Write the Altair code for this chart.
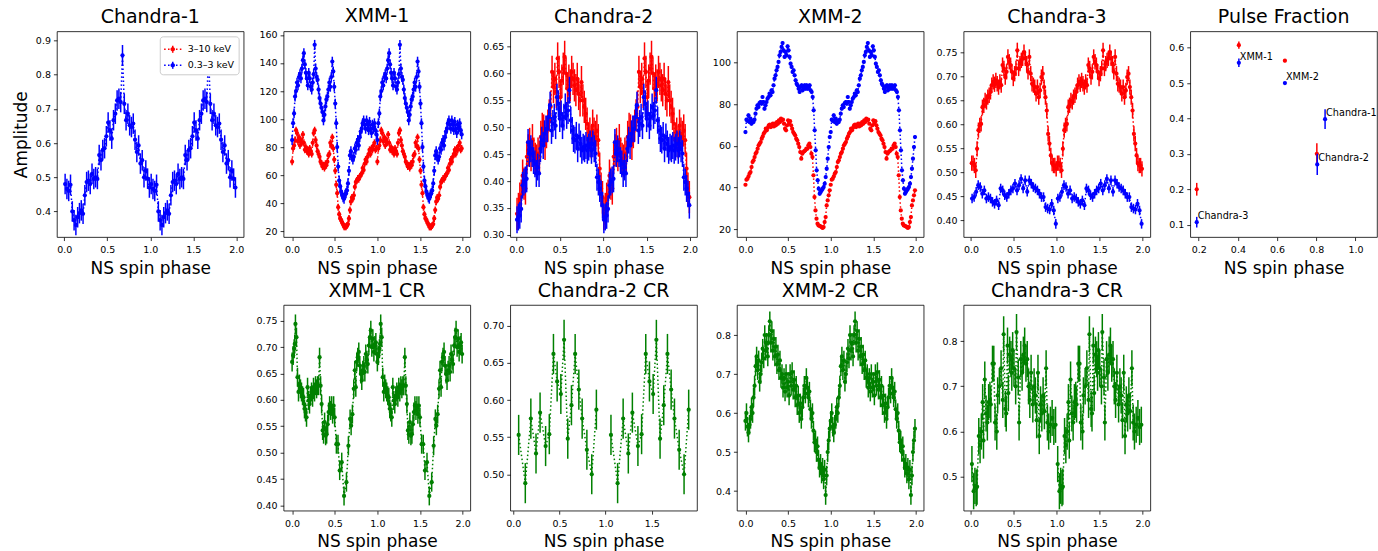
import altair as alt
import pandas as pd

RED = "#ff0000"
BLUE = "#0000ff"
GREEN = "#008000"
W, H = 187, 206
FONT = "DejaVu Sans"

# ---------------- data (one rotation each; plotted twice, phase and phase+1) -------------
# Chandra-1 (0.3-3 keV only)
c1_blue = [0.48, 0.466, 0.46, 0.478, 0.40, 0.374, 0.36, 0.383, 0.395, 0.403, 0.393, 0.447,
           0.486, 0.49, 0.48, 0.51, 0.495, 0.50, 0.495, 0.565, 0.55, 0.58, 0.585, 0.62, 0.66,
           0.637, 0.613, 0.667, 0.686, 0.725, 0.73, 0.72, 0.857, 0.715, 0.667, 0.686, 0.652,
           0.647, 0.657, 0.61, 0.574, 0.593, 0.54, 0.55, 0.50, 0.52, 0.496, 0.47]
c1_blue_err = 0.03

# XMM-1
x1_blue = [85, 97, 104, 116, 120, 126, 124, 130, 132, 129,
           136, 142, 147, 139, 133, 129, 124, 133, 129, 123,
           121, 126, 132, 153, 136, 130, 128, 121, 115, 111,
           108, 105, 99, 103, 109, 114, 116, 121, 126, 123,
           130, 141, 134, 123, 111, 97, 80, 66, 56, 52,
           48, 46, 44, 43, 46, 47, 49, 54, 63, 74,
           77, 73, 71, 73, 79, 78, 83, 85, 81, 87,
           91, 93, 97, 99, 96, 93, 99, 96, 92, 98,
           93, 90, 96, 93, 97, 92, 89]
x1_red = [69.5, 79, 81, 85, 92, 90, 84, 87, 81, 85,
          83, 89, 83, 78, 80, 77, 78, 75, 79, 77,
          75, 83, 90, 92, 85, 81, 77, 75, 73, 69.5,
          68, 66, 67, 65, 68, 67, 69.5, 74, 75, 83,
          81, 87, 79, 71, 63, 53, 47, 37, 32, 29,
          28, 26, 25, 23, 23, 23, 24, 25, 29, 35,
          41, 44, 43, 45.5, 51.5, 55, 56, 57.5, 57, 59,
          60, 61, 65, 63.5, 68, 71, 69.5, 73, 75, 78,
          75, 79, 78, 81, 83, 78, 79]
x1_blue_err, x1_red_err = 3.5, 2.5

# Chandra-2
c2_blue = [0.328, 0.333, 0.336, 0.348, 0.392, 0.398, 0.402, 0.404, 0.472, 0.451,
           0.46, 0.451, 0.438, 0.432, 0.414, 0.426, 0.414, 0.46, 0.476, 0.466,
           0.488, 0.497, 0.497, 0.519, 0.541, 0.494, 0.507, 0.519, 0.503, 0.556,
           0.544, 0.516, 0.525, 0.503, 0.519, 0.538, 0.522, 0.531, 0.569, 0.513,
           0.494, 0.479, 0.476, 0.485, 0.46, 0.482, 0.469, 0.457, 0.463, 0.46,
           0.466, 0.457, 0.463, 0.469, 0.457, 0.469, 0.46, 0.451, 0.407, 0.398,
           0.386, 0.376, 0.355]
c2_red = [0.339, 0.348, 0.367, 0.373, 0.41, 0.395, 0.386, 0.445, 0.457, 0.469,
          0.448, 0.476, 0.451, 0.441, 0.438, 0.451, 0.445, 0.482, 0.497, 0.494,
          0.469, 0.491, 0.503, 0.522, 0.538, 0.603, 0.575, 0.59, 0.566, 0.628,
          0.603, 0.556, 0.587, 0.609, 0.631, 0.6, 0.572, 0.587, 0.578, 0.603,
          0.59, 0.578, 0.569, 0.59, 0.562, 0.55, 0.584, 0.55, 0.538, 0.525,
          0.507, 0.476, 0.488, 0.472, 0.503, 0.488, 0.482, 0.494, 0.476, 0.423,
          0.386, 0.37]
c2_blue_err, c2_red_err = 0.025, 0.03

# XMM-2
x2_blue = [66.6, 72.5, 72, 74.6, 71.4, 73, 70.6, 72, 71.4, 72.5,
           75.4, 77.8, 79.4, 78.6, 80.5, 81, 80.2, 83.4, 81, 77.8,
           79.4, 81, 82.6, 83.4, 85, 84.2, 86.6, 85.8, 89, 92.2,
           93.8, 96.2, 97.8, 100.2, 103.4, 105, 107.4, 109.3, 105.8, 102.6,
           105, 103.4, 107.7, 105.8, 102.6, 99.4, 97.8, 95.4, 96.2, 93.8,
           91.4, 89.8, 89, 87.4, 85.8, 88.2, 89, 86.6, 88.2, 89,
           87.4, 89, 87.4, 88.2, 89, 86.6, 85.8, 83.4, 77, 67.4,
           57.8, 48.2, 43.4, 39.4, 37, 37.8, 38.6, 39.4, 40.2, 41.8,
           45, 49, 53.8, 59.4, 64.2]
x2_red = [41.3, 43.7, 44.2, 45.3, 46.6, 47.4, 49.8, 52.2, 53, 54.6,
          56.2, 57, 58.6, 60.2, 61, 61.8, 63.4, 64.5, 65.8, 66.6,
          68.2, 67.4, 68.6, 69.8, 70.2, 69, 69.8, 70.6, 69.3, 70.6,
          69.8, 71.4, 70.6, 72.2, 71.4, 73, 72.2, 72.5, 70.6, 68.2,
          67.4, 69.8, 72.2, 70.9, 71.8, 69.8, 68.2, 66.6, 65.8, 65,
          63.4, 62.6, 61, 59.4, 57, 53.8, 56.2, 57, 57.4, 57.8,
          58.6, 58.6, 60.2, 61, 59.4, 56.2, 54.6, 45.8, 35.4, 29,
          25, 22.6, 21.8, 21.6, 21.3, 21, 20.6, 21, 23.4, 25.8,
          31.4, 33.8, 36.2, 38.6]
x2_blue_err, x2_red_err = 0.9, 0.7

# Chandra-3
c3_red = [0.519, 0.519, 0.514, 0.504, 0.549, 0.588, 0.598, 0.601, 0.636, 0.64,
          0.65, 0.647, 0.657, 0.661, 0.668, 0.682, 0.689, 0.684, 0.692, 0.685,
          0.678, 0.689, 0.682, 0.724, 0.717, 0.699, 0.71, 0.741, 0.731, 0.724,
          0.71, 0.696, 0.706, 0.717, 0.755, 0.717, 0.727, 0.734, 0.738, 0.751,
          0.738, 0.727, 0.71, 0.741, 0.706, 0.685, 0.682, 0.678, 0.664, 0.678,
          0.657, 0.671, 0.699, 0.706, 0.678, 0.657, 0.629, 0.58, 0.56, 0.535,
          0.518, 0.514, 0.514, 0.507]
c3_blue = [0.445, 0.448, 0.459, 0.473, 0.469, 0.455, 0.462, 0.445, 0.448, 0.445,
           0.438, 0.434, 0.441, 0.431, 0.466, 0.462, 0.452, 0.448, 0.455, 0.462,
           0.466, 0.476, 0.462, 0.473, 0.486, 0.466, 0.483, 0.459, 0.483, 0.476,
           0.469, 0.466, 0.462, 0.455, 0.448, 0.448, 0.427, 0.424, 0.422, 0.434,
           0.42, 0.392]
c3_red_err, c3_blue_err = 0.016, 0.01

# Pulse fraction
pf_labels = ["Chandra-1", "XMM-1", "Chandra-2", "XMM-2", "Chandra-3"]
pf_x = [0.845, 0.405, 0.805, 0.64, 0.19]
pf_soft = [0.398, 0.557, 0.27, 0.50, 0.107]
pf_soft_err = [0.028, 0.012, 0.03, 0.004, 0.015]
pf_hard_x = [0.405, 0.803, 0.64, 0.19]
pf_hard = [0.607, 0.30, 0.563, 0.20]
pf_hard_err = [0.01, 0.03, 0.004, 0.018]

# Count-rate ratios (CR)
x1cr_phase = [0.0, 0.012, 0.024, 0.031, 0.039, 0.051, 0.063, 0.075, 0.086, 0.098,
              0.11, 0.122, 0.134, 0.145, 0.157, 0.169, 0.181, 0.193, 0.204, 0.216,
              0.228, 0.24, 0.251, 0.263, 0.275, 0.287, 0.299, 0.31, 0.322, 0.334,
              0.346, 0.358, 0.369, 0.381, 0.393, 0.405, 0.417, 0.428, 0.44, 0.452,
              0.464, 0.475, 0.487, 0.499, 0.519, 0.538, 0.558, 0.582, 0.609, 0.637,
              0.66, 0.68, 0.692, 0.707, 0.723, 0.735, 0.747, 0.758, 0.77, 0.782,
              0.794, 0.806, 0.817, 0.829, 0.841, 0.853, 0.864, 0.876, 0.888, 0.9,
              0.912, 0.923, 0.935, 0.947, 0.959, 0.971, 0.982, 0.994]
x1cr_val = [0.672, 0.684, 0.697, 0.706, 0.744, 0.719, 0.643, 0.615, 0.63, 0.621,
            0.615, 0.608, 0.605, 0.583, 0.577, 0.567, 0.624, 0.599, 0.592, 0.608,
            0.615, 0.605, 0.624, 0.615, 0.627, 0.621, 0.627, 0.627, 0.681, 0.627,
            0.592, 0.542, 0.535, 0.558, 0.532, 0.535, 0.554, 0.577, 0.589, 0.58,
            0.589, 0.573, 0.589, 0.567, 0.516, 0.516, 0.466, 0.482, 0.418, 0.444,
            0.513, 0.564, 0.551, 0.573, 0.621, 0.656, 0.624, 0.672, 0.681, 0.691,
            0.665, 0.649, 0.637, 0.656, 0.665, 0.653, 0.687, 0.675, 0.668, 0.703,
            0.719, 0.732, 0.70, 0.716, 0.691, 0.703, 0.709, 0.687]
x1cr_err = 0.018

c2cr_phase = [0.058, 0.13, 0.19, 0.246, 0.29, 0.35, 0.39, 0.435, 0.475, 0.515,
              0.55, 0.59, 0.63, 0.67, 0.71, 0.746, 0.797, 0.85, 0.90]
c2cr_val = [0.553, 0.488, 0.575, 0.528, 0.583, 0.538, 0.554, 0.662, 0.625, 0.608,
            0.681, 0.548, 0.593, 0.662, 0.614, 0.575, 0.533, 0.500, 0.587]
c2cr_err = 0.027

x2cr_val = [0.58, 0.60, 0.565, 0.55, 0.57, 0.585, 0.615, 0.60, 0.64, 0.67,
            0.72, 0.745, 0.71, 0.735, 0.68, 0.70, 0.73, 0.765, 0.74, 0.80,
            0.76, 0.78, 0.745, 0.80, 0.835, 0.78, 0.81, 0.76, 0.79, 0.745,
            0.77, 0.725, 0.75, 0.71, 0.735, 0.69, 0.70, 0.665, 0.69, 0.655,
            0.70, 0.665, 0.68, 0.645, 0.70, 0.67, 0.705, 0.66, 0.685, 0.64,
            0.67, 0.62, 0.645, 0.60, 0.625, 0.585, 0.615, 0.64, 0.67, 0.65,
            0.69, 0.665, 0.64, 0.655, 0.61, 0.585, 0.60, 0.555, 0.525, 0.53,
            0.50, 0.515, 0.48, 0.46, 0.47, 0.445, 0.46, 0.43, 0.455, 0.39,
            0.44, 0.50, 0.53, 0.56]
x2cr_err = 0.025

c3cr_phase = [0.01, 0.03, 0.045, 0.06, 0.07, 0.09, 0.105, 0.12, 0.135, 0.145,
              0.16, 0.175, 0.19, 0.205, 0.22, 0.23, 0.25, 0.265, 0.28, 0.3,
              0.31, 0.33, 0.35, 0.37, 0.38, 0.4, 0.41, 0.425, 0.435, 0.45,
              0.465, 0.475, 0.485, 0.5, 0.52, 0.53, 0.55, 0.56, 0.58, 0.595,
              0.61, 0.625, 0.64, 0.655, 0.67, 0.685, 0.70, 0.72, 0.735, 0.75,
              0.765, 0.78, 0.795, 0.81, 0.825, 0.84, 0.855, 0.875, 0.89, 0.905,
              0.925, 0.945, 0.965, 0.985]
c3cr_val = [0.528, 0.468, 0.48, 0.475, 0.478, 0.59, 0.57, 0.60, 0.665, 0.58,
            0.715, 0.64, 0.62, 0.665, 0.67, 0.66, 0.75, 0.75, 0.62, 0.60,
            0.68, 0.70, 0.74, 0.67, 0.815, 0.65, 0.64, 0.79, 0.685, 0.77,
            0.76, 0.73, 0.78, 0.74, 0.70, 0.82, 0.72, 0.62, 0.76, 0.73,
            0.77, 0.79, 0.75, 0.76, 0.70, 0.67, 0.73, 0.66, 0.70, 0.68,
            0.625, 0.73, 0.59, 0.66, 0.64, 0.68, 0.645, 0.74, 0.62, 0.60,
            0.615, 0.63, 0.61, 0.615]
c3cr_err = 0.04

X_TICKS = [0.0, 0.5, 1.0, 1.5, 2.0]


def grid(vals, start_at_zero=False):
    n = len(vals)
    if start_at_zero:
        return [i / n for i in range(n)]
    return [(i + 0.5) / n for i in range(n)]


def make_df(phases, vals, err, band=""):
    rows = []
    for c in (0, 1):
        for p, v in zip(phases, vals):
            rows.append({"phase": p + c, "val": v, "lo": v - err, "hi": v + err,
                         "cycle": c, "band": band})
    return pd.DataFrame(rows)


LEGEND_PATH = ("M-1,-0.09h0.18v0.18h-0.18Z M-0.55,-0.09h0.18v0.18h-0.18Z "
               "M0.37,-0.09h0.18v0.18h-0.18Z M0.82,-0.09h0.18v0.18h-0.18Z "
               "M-0.09,-0.4h0.18v0.8h-0.18Z "
               "M-0.26,0a0.26,0.26 0 1,1 0.52,0a0.26,0.26 0 1,1 -0.52,0Z")


def panel(title, series, xdom, ydom, yticks, yfmt, xticks=X_TICKS, ytitle="", legend=False):
    xs = alt.Scale(domain=xdom, nice=False, zero=False)
    ys = alt.Scale(domain=ydom, nice=False, zero=False)
    xax = alt.Axis(values=xticks, format=".1f", title="NS spin phase")
    yax = alt.Axis(values=yticks, format=yfmt, title=ytitle)
    layers = []
    for phases, vals, err, color, band in series:
        df = make_df(phases, vals, err, band)
        X = alt.X("phase:Q", scale=xs, axis=xax)
        base = alt.Chart(df)
        line = base.mark_line(color=color, strokeDash=[1.5, 2.5], strokeWidth=1.5).encode(
            x=X, y=alt.Y("val:Q", scale=ys, axis=yax), detail="cycle:N")
        rule = base.mark_rule(color=color, strokeWidth=1.5).encode(
            x=X, y=alt.Y("lo:Q", scale=ys, axis=yax), y2="hi:Q")
        if legend:
            pts = base.mark_circle(size=18, opacity=1).encode(
                x=X, y=alt.Y("val:Q", scale=ys, axis=yax),
                color=alt.Color("band:N",
                                scale=alt.Scale(domain=["3–10 keV", "0.3–3 keV"], range=[RED, BLUE]),
                                legend=alt.Legend(title=None, orient="top-right", offset=5,
                                                  padding=4, strokeColor="#cccccc", fillColor="white",
                                                  cornerRadius=3, labelFontSize=9.5, labelFont=FONT,
                                                  labelColor="black", symbolType=LEGEND_PATH,
                                                  symbolSize=300, symbolStrokeWidth=0,
                                                  rowPadding=2, labelOffset=6)))
        else:
            pts = base.mark_circle(color=color, size=18, opacity=1).encode(
                x=X, y=alt.Y("val:Q", scale=ys, axis=yax))
        layers += [line, rule, pts]
    return alt.layer(*layers).properties(width=W, height=H, title=title)


chandra1 = panel("Chandra-1",
                 [(grid(c1_blue), c1_blue, c1_blue_err, BLUE, "0.3–3 keV")],
                 [-0.085, 2.085], [0.325, 0.927], [0.4, 0.5, 0.6, 0.7, 0.8, 0.9], ".1f",
                 ytitle="Amplitude", legend=True)
xmm1 = panel("XMM-1",
             [(grid(x1_red, True), x1_red, x1_red_err, RED, ""),
              (grid(x1_blue, True), x1_blue, x1_blue_err, BLUE, "")],
             [-0.1, 2.09], [15.7, 162.6], [20, 40, 60, 80, 100, 120, 140, 160], "d")
chandra2 = panel("Chandra-2",
                 [(grid(c2_red), c2_red, c2_red_err, RED, ""),
                  (grid(c2_blue), c2_blue, c2_blue_err, BLUE, "")],
                 [-0.07, 2.08], [0.2957, 0.6785],
                 [0.30, 0.35, 0.40, 0.45, 0.50, 0.55, 0.60, 0.65], ".2f")
xmm2 = panel("XMM-2",
             [(grid(x2_red, True), x2_red, x2_red_err, RED, ""),
              (grid(x2_blue, True), x2_blue, x2_blue_err, BLUE, "")],
             [-0.1, 2.09], [16.2, 114.9], [20, 40, 60, 80, 100], "d")
chandra3 = panel("Chandra-3",
                 [(grid(c3_red), c3_red, c3_red_err, RED, ""),
                  (grid(c3_blue), c3_blue, c3_blue_err, BLUE, "")],
                 [-0.087, 2.09], [0.3644, 0.7946],
                 [0.40, 0.45, 0.50, 0.55, 0.60, 0.65, 0.70, 0.75], ".2f")

# Pulse fraction panel
pf_soft_df = pd.DataFrame({"x": pf_x, "y": pf_soft,
                           "lo": [v - e for v, e in zip(pf_soft, pf_soft_err)],
                           "hi": [v + e for v, e in zip(pf_soft, pf_soft_err)],
                           "label": pf_labels})
pf_hard_df = pd.DataFrame({"x": pf_hard_x, "y": pf_hard,
                           "lo": [v - e for v, e in zip(pf_hard, pf_hard_err)],
                           "hi": [v + e for v, e in zip(pf_hard, pf_hard_err)]})
pxs = alt.Scale(domain=[0.157, 1.11], nice=False, zero=False)
pys = alt.Scale(domain=[0.065, 0.646], nice=False, zero=False)
pxa = alt.Axis(values=[0.2, 0.4, 0.6, 0.8, 1.0], format=".1f", title="NS spin phase")
pya = alt.Axis(values=[0.1, 0.2, 0.3, 0.4, 0.5, 0.6], format=".1f", title="")
pf_layers = []
for df, color in ((pf_hard_df, RED), (pf_soft_df, BLUE)):
    b = alt.Chart(df)
    pf_layers.append(b.mark_rule(color=color, strokeWidth=1.5).encode(
        x=alt.X("x:Q", scale=pxs, axis=pxa), y=alt.Y("lo:Q", scale=pys, axis=pya), y2="hi:Q"))
    pf_layers.append(b.mark_circle(color=color, size=18, opacity=1).encode(
        x=alt.X("x:Q", scale=pxs, axis=pxa), y=alt.Y("y:Q", scale=pys, axis=pya)))
pf_layers.append(alt.Chart(pf_soft_df).mark_text(
    align="left", baseline="alphabetic", dx=1, dy=-3, fontSize=9.7, font=FONT, color="black").encode(
    x=alt.X("x:Q", scale=pxs, axis=pxa), y=alt.Y("y:Q", scale=pys, axis=pya), text="label:N"))
pulse = alt.layer(*pf_layers).properties(width=W, height=H, title="Pulse Fraction")

xmm1cr = panel("XMM-1 CR", [(x1cr_phase, x1cr_val, x1cr_err, GREEN, "")],
               [-0.1, 2.09], [0.390, 0.780],
               [0.40, 0.45, 0.50, 0.55, 0.60, 0.65, 0.70, 0.75], ".2f")
chandra2cr = panel("Chandra-2 CR", [(c2cr_phase, c2cr_val, c2cr_err, GREEN, "")],
                   [-0.033, 1.99], [0.451, 0.728],
                   [0.50, 0.55, 0.60, 0.65, 0.70], ".2f", xticks=[0.0, 0.5, 1.0, 1.5])
xmm2cr = panel("XMM-2 CR", [(grid(x2cr_val, True), x2cr_val, x2cr_err, GREEN, "")],
               [-0.1, 2.09], [0.35, 0.877], [0.4, 0.5, 0.6, 0.7, 0.8], ".1f")
chandra3cr = panel("Chandra-3 CR", [(c3cr_phase, c3cr_val, c3cr_err, GREEN, "")],
                   [-0.087, 2.09], [0.425, 0.88], [0.5, 0.6, 0.7, 0.8], ".1f")

empty = alt.Chart(pd.DataFrame({"a": [0]})).mark_point(opacity=0).encode(
    x=alt.X("a:Q", axis=None), y=alt.Y("a:Q", axis=None)
).properties(width=W, height=H, view=alt.ViewBackground(stroke="transparent"))

chart = alt.concat(
    chandra1, xmm1, chandra2, xmm2, chandra3, pulse,
    empty, xmm1cr, chandra2cr, xmm2cr, chandra3cr,
    columns=6, spacing={"row": 68, "column": 40}, bounds="flush"
).resolve_scale(
    x="independent", y="independent", color="independent"
).properties(
    padding={"left": 11, "top": 6, "right": 0, "bottom": 0}
).configure_view(
    stroke="black", strokeWidth=0.8
).configure_axis(
    grid=False, domain=False, tickColor="black", tickSize=3.5, tickWidth=0.8,
    labelFontSize=9.5, labelColor="black", labelFont=FONT, labelPadding=3,
    labelFlush=False, labelOverlap=False,
    titleFont=FONT, titleFontSize=17, titleFontWeight="normal", titleColor="black"
).configure_axisX(titlePadding=6, labelPadding=4).configure_axisY(titlePadding=5).configure_title(
    font=FONT, fontSize=19, fontWeight="normal", color="black", offset=4,
    baseline="alphabetic", anchor="middle"
)

chart.save("out.html", embed_options={"renderer": "svg", "actions": False})
